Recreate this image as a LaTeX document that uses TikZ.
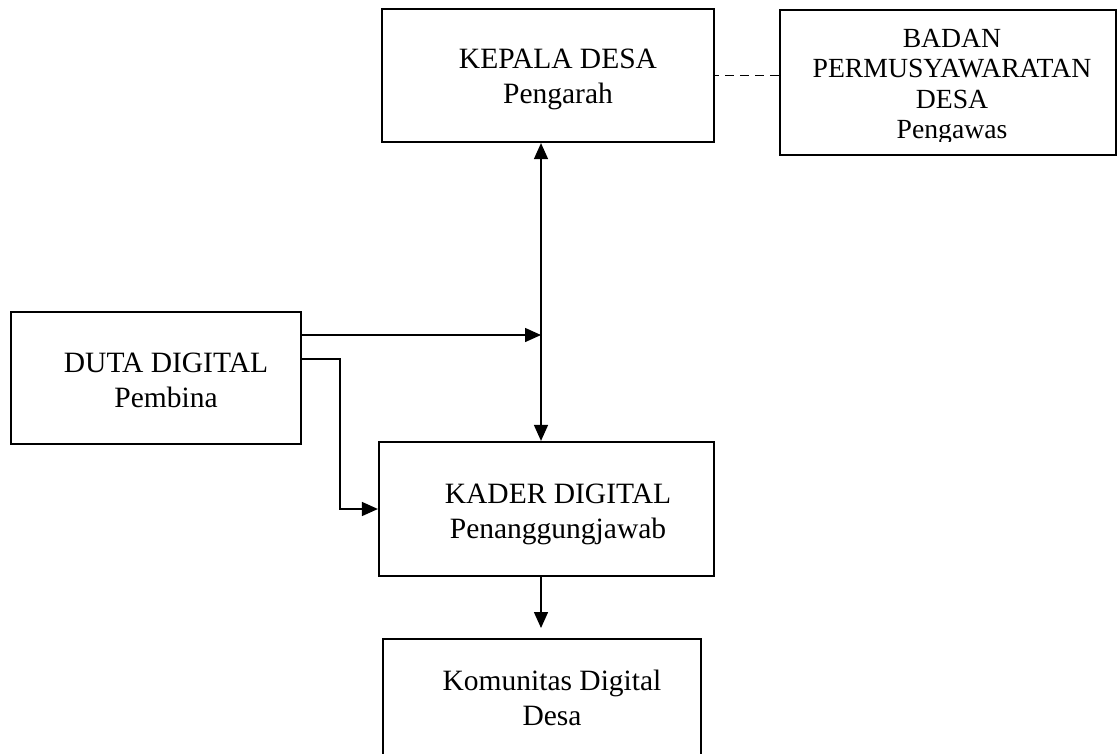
\documentclass[tikz,border=0pt]{standalone}
\usepackage{fontspec}
\setmainfont{Liberation Serif}
\usetikzlibrary{arrows.meta,calc}
\begin{document}
\begin{tikzpicture}[x=1pt,y=-1pt,
  box/.style={draw, rectangle, line width=2.2pt, inner sep=0pt},
  boxtext/.style={align=center, inner sep=0pt, anchor=north, font=\fontsize{29.5}{35}\selectfont},
  link/.style={line width=1.5pt},
  arrowlink/.style={-{Triangle[length=16pt,width=14pt]}},
  twoway/.style={{Triangle[length=16pt,width=14pt]}-{Triangle[length=16pt,width=14pt]}}]
\clip (0,0) rectangle (1117,753);

% organisation boxes
\node[box, minimum width=332pt, minimum height=133pt] (kepala) at (548,75.5) {};
\node[box, minimum width=336pt, minimum height=145pt] (badan) at (948,82.5) {};
\node[box, minimum width=290pt, minimum height=132pt] (duta) at (156,378) {};
\node[box, minimum width=335pt, minimum height=134pt] (kader) at (546.5,509) {};
\node[box, minimum width=318pt, minimum height=133pt] (komunitas) at (542,705.5) {};

% box captions
\node[boxtext] (kepalatext) at (558,48.5) {KEPALA DESA\\Pengarah};
\begin{scope}
  \clip (780,10) rectangle (1116,141);
  \node[boxtext, font=\fontsize{27.7}{30.3}\selectfont] (badantext) at (952,29)
    {BADAN\\PERMUSYAWARATAN\\DESA\\Pengawas};
\end{scope}
\node[boxtext] (dutatext) at (166,352.5) {DUTA DIGITAL\\Pembina};
\node[boxtext] (kadertext) at (558,483.5) {KADER DIGITAL\\Penanggungjawab};
\node[boxtext] (komtext) at (552,670) {Komunitas Digital\\Desa};

% connectors
\coordinate (spine) at (541,0);
\coordinate (join) at (541,335);
\coordinate (bend) at (340,359);
\coordinate (droptip) at (541,628);

\draw[link, twoway] (kepala.south -| spine) -- (kader.north -| spine);
\draw[link, arrowlink] (duta.east |- join) -- (join);
\draw[link, arrowlink] (duta.east |- bend) -- (bend) |- (kader.west);
\draw[link, arrowlink] (kader.south -| spine) -- (droptip);
\draw[link, line width=1.7pt, dash pattern=on 9pt off 6pt] (badan.west |- kepala.east) -- (kepala.east);
\end{tikzpicture}
\end{document}
